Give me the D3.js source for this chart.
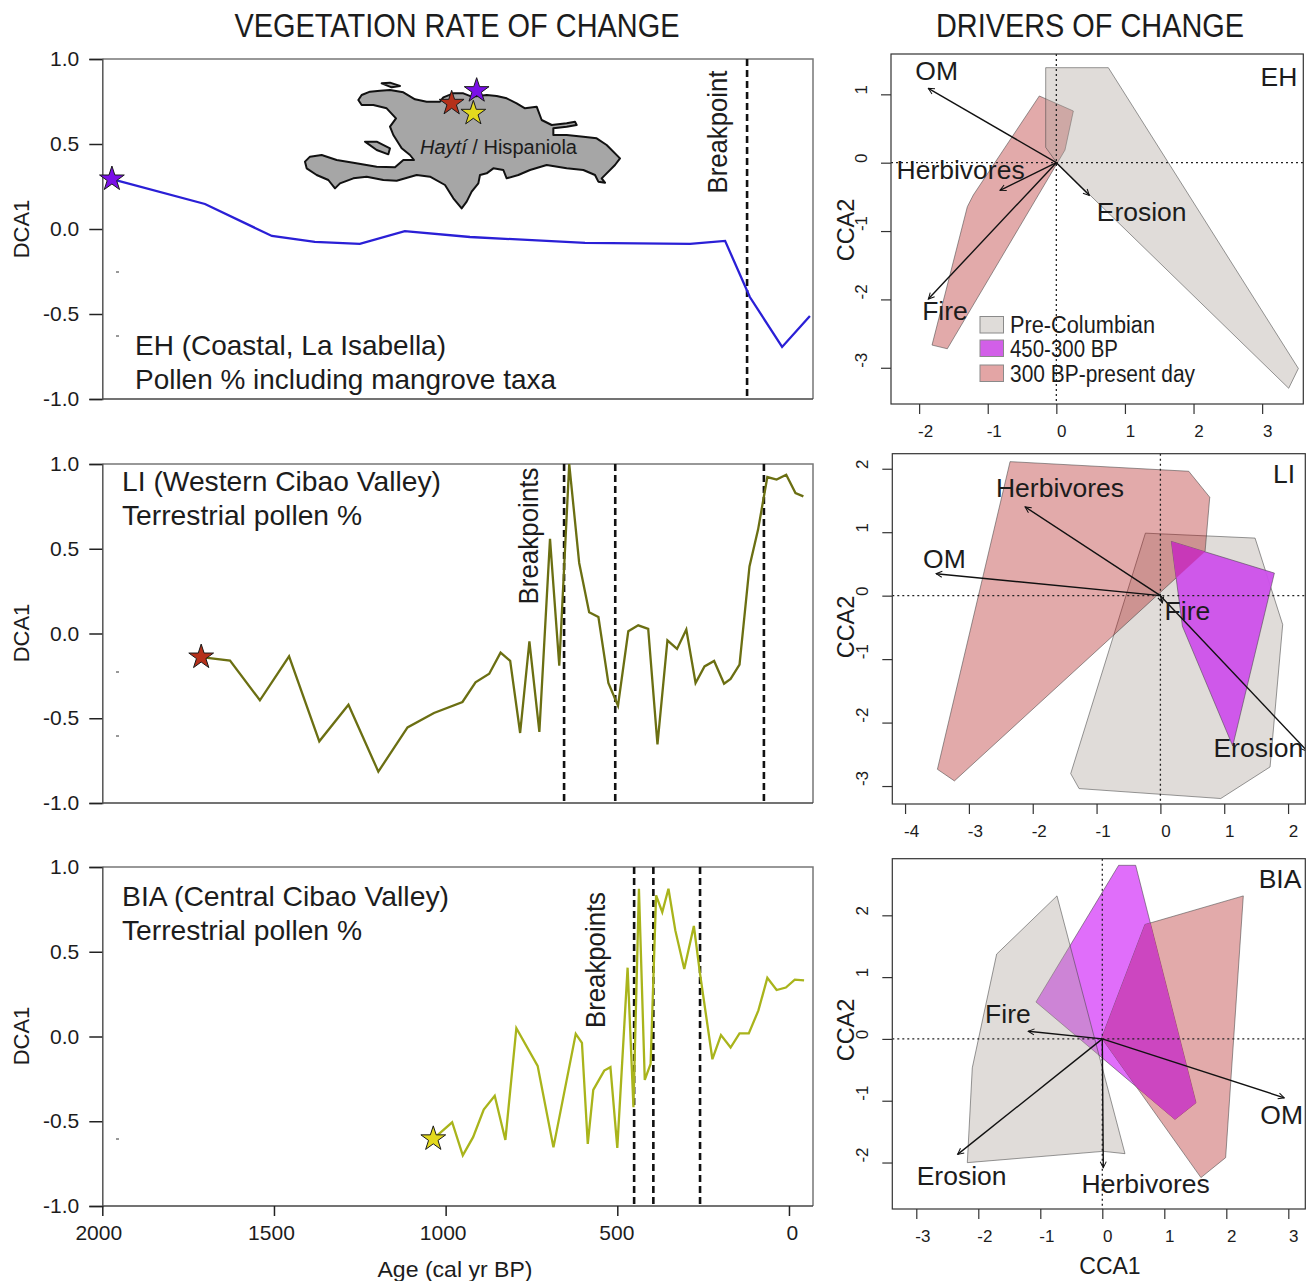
<!DOCTYPE html>
<html><head><meta charset="utf-8">
<script src="https://cdn.jsdelivr.net/npm/d3@7/dist/d3.min.js"></script>
<style>
html,body{margin:0;padding:0;background:#fff}
svg{display:block}
text{font-family:"Liberation Sans",Arial,sans-serif;fill:#1c1c1c}
</style></head><body><svg id="c" width="1311" height="1281"></svg>
<script>
// ---------- vegetation rate of change ----------
const ehAge=[1972,1701,1506,1381,1250,1119,929,594,288,186,114,20,-61];
const ehDca=[0.294,0.147,-0.041,-0.076,-0.088,-0.012,-0.047,-0.082,-0.088,-0.07,-0.4,-0.694,-0.512];
const liAge=[1712,1628,1541,1456,1368,1283,1196,1111,1034,951,913,873,840,812,783,756,727,696,669,640,611,582,555,526,498,468,439,410,383,354,326,299,272,246,218,189,170,144,115,90,63,36,8,-19,-42];
const liDca=[-0.139,-0.16,-0.394,-0.135,-0.636,-0.42,-0.815,-0.554,-0.469,-0.404,-0.288,-0.237,-0.113,-0.162,-0.587,-0.046,-0.581,0.558,-0.19,1.0,0.416,0.125,0.097,-0.292,-0.426,0.013,0.048,0.027,-0.654,-0.04,-0.091,0.023,-0.292,-0.194,-0.162,-0.296,-0.268,-0.184,0.396,0.613,0.923,0.908,0.937,0.829,0.809];
const biaAge=[1036,981,950,920,889,857,826,794,732,686,621,603,586,570,538,520,500,470,453,437,420,403,387,369,351,331,305,277,259,223,198,170,144,117,89,63,36,9,-17,-44];
const biaDca=[-0.604,-0.506,-0.701,-0.594,-0.431,-0.35,-0.61,0.049,-0.173,-0.654,0.016,-0.037,-0.634,-0.315,-0.201,-0.181,-0.657,0.406,-0.417,0.872,-0.256,-0.161,0.833,0.734,0.872,0.626,0.398,0.652,0.37,-0.134,0.008,-0.065,0.018,0.018,0.154,0.346,0.274,0.289,0.335,0.331];
const ehBreaks=[122], liBreaks=[655,506,73], biaBreaks=[451,395,259];
const dcaTicks=[-1,-0.5,0,0.5,1], ageTicks=[2000,1500,1000,500,0];

// ---------- drivers of change (CCA) ----------
const ehGray=[[-0.155,1.39],[0.758,1.39],[3.528,-3.01],[3.387,-3.30],[0.005,0],[-0.155,0.224]];
const ehRed=[[-0.248,0.976],[0.248,0.756],[0.126,0.185],[-1.589,-2.722],[-1.812,-2.668],[-1.297,-0.644],[-1.21,-0.473]];
const liGray=[[-0.235,0.985],[1.483,0.907],[1.916,-0.456],[1.718,-2.699],[0.945,-3.197],[-1.274,-3.04],[-1.405,-2.804]];
const liRed=[[-2.355,2.112],[0.444,1.96],[0.773,1.551],[0.7,0.697],[-3.227,-2.919],[-3.493,-2.736]];
const liPurple=[[0.172,0.854],[1.786,0.356],[1.133,-2.369],[0.345,-0.482]];
const biaGray=[[-0.731,2.314],[0.366,-1.857],[0.016,-1.819],[-2.177,-2.002],[-2.097,-0.468],[-1.704,1.372]];
const biaRed=[[2.274,2.314],[0.688,1.851],[-0.011,0.016],[1.591,-2.244],[1.989,-1.921]];
const biaPurple=[[0.263,2.809],[0.538,2.809],[1.511,-1.033],[1.172,-1.302],[-1.07,0.597]];
const ehArrows=[["OM",-1.866,1.088,-1.744,1.346],["Herbivores",-0.821,-0.405,-1.395,-0.107],["Fire",-1.866,-1.995,-1.623,-2.166],["Erosion",0.481,-0.478,1.244,-0.717]];
const liArrows=[["Herbivores",-2.12,1.399,-1.572,1.693],["OM",-3.514,0.346,-3.384,0.582],["Fire",0.031,-0.115,0.423,-0.246],["Erosion",2.3,-2.45,1.535,-2.406]];
const biaArrows=[["Fire",-1.194,0.124,-1.522,0.404],["OM",2.935,-0.953,2.892,-1.238],["Erosion",-2.333,-1.868,-2.269,-2.217],["Herbivores",0.016,-2.083,0.699,-2.341]];
const legendItems=["Pre-Columbian","450-300 BP","300 BP-present day"];

// ---------- Hispaniola outline (map units) ----------
const islandMain=[[205,120],[215,105],[240,95],[270,92],[300,90],[340,97],[375,118],[410,125],[450,125],[460,112],[490,100],[520,100],[545,110],[590,105],[620,108],[650,115],[680,130],[705,145],[740,140],[755,180],[785,195],[830,190],[855,185],[860,195],[830,200],[790,205],[790,225],[830,225],[880,230],[920,235],[950,255],[990,295],[975,315],[950,340],[935,355],[945,368],[925,365],[915,345],[880,330],[830,325],[770,315],[720,330],[685,345],[650,355],[640,330],[610,325],[590,340],[570,345],[565,370],[545,395],[530,425],[515,445],[490,415],[465,375],[420,350],[380,345],[320,362],[280,360],[230,350],[190,355],[150,370],[135,385],[115,360],[80,345],[50,325],[45,305],[60,290],[95,285],[140,300],[190,308],[260,320],[315,322],[340,300],[372,300],[360,285],[335,265],[310,225],[300,200],[318,175],[290,145],[250,135],[215,135]];
const islandTortuga=[[275,70],[300,68],[330,78],[305,82]];
const islandGonave=[[225,245],[260,245],[300,265],[295,283],[260,270]];
const siteStars=[[485,130,"#b5301a"],[560,92,"#7a10e8"],[550,160,"#e3d91e"]];

const svg=d3.select("#c");
const defs=svg.append("defs");
defs.append("marker").attr("id","ah").attr("markerUnits","userSpaceOnUse")
  .attr("viewBox","-9 -5 10 10").attr("refX",0).attr("refY",0).attr("markerWidth",10).attr("markerHeight",10).attr("orient","auto")
  .append("path").attr("d","M-6,-3L0,0L-6,3").attr("fill","none").attr("stroke","#111").attr("stroke-width",1);

function txt(x,y,s,size,o={}){
  const t=svg.append("text").attr("x",x).attr("y",y).attr("font-size",size).text(s)
    .attr("text-anchor",o.anchor||"start").attr("dominant-baseline",o.base||"alphabetic");
  if(o.rot!==undefined) t.attr("transform",`rotate(${o.rot},${x},${y})`);
  if(o.len) t.attr("textLength",o.len).attr("lengthAdjust","spacingAndGlyphs");
  return t;
}
const starPath=d3.symbol().type(d3.symbolStar).size(190);
function star(g,x,y,c){ g.append("path").attr("d",starPath()).attr("transform",`translate(${x},${y})`).attr("fill",c).attr("stroke","#1a1a1a").attr("stroke-width",1); }

// titles
txt(457,25.5,"VEGETATION RATE OF CHANGE",33,{anchor:"middle",base:"central",len:445});
txt(1090,25.5,"DRIVERS OF CHANGE",33,{anchor:"middle",base:"central",len:308});

// left panels
const xAge=d3.scaleLinear().domain([2000,-70]).range([102.3,813]);
function linePanel(p){
  const y=d3.scaleLinear().domain([-1,1]).range([p.bottom,p.top]);
  const g=svg.append("g");
  const L=xAge.range()[0],R=xAge.range()[1];
  g.append("path").attr("d",`M${L},${p.top}H${R}V${p.bottom}`).attr("fill","none").attr("stroke","#777").attr("stroke-width",1.5);
  g.append("line").attr("x1",L).attr("x2",R).attr("y1",p.bottom).attr("y2",p.bottom).attr("stroke","#444").attr("stroke-width",1.5);
  const ax=g.append("g").attr("transform",`translate(${L},0)`).call(d3.axisLeft(y).tickValues(dcaTicks).tickSize(13).tickPadding(10).tickFormat(d3.format(".1f")));
  ax.select(".domain").attr("stroke","#555").attr("stroke-width",1.5);
  ax.selectAll(".tick line").attr("stroke","#222").attr("stroke-width",1.5);
  ax.selectAll("text").attr("font-size",21).style("font-family",'"Liberation Sans"').attr("fill","#1c1c1c");
  ax.selectAll("text").text(d=>d3.format(".1f")(d).replace("−","-"));
  g.selectAll(".bp").data(p.breaks).enter().append("line").attr("class","bp")
    .attr("x1",d=>xAge(d)).attr("x2",d=>xAge(d)).attr("y1",p.top).attr("y2",p.bottom-2)
    .attr("stroke","#111").attr("stroke-width",2.6).attr("stroke-dasharray","7 4");
  const ln=d3.line().x(d=>xAge(d[0])).y(d=>y(d[1]));
  const pts=d3.zip(p.age,p.dca);
  g.append("path").attr("d",ln(pts)).attr("fill","none").attr("stroke",p.color).attr("stroke-width",2.3).attr("stroke-linejoin","miter");
  star(g,xAge(p.age[0]),y(p.dca[0]),p.star);
  txt(21,p.ylabY,"DCA1",22,{anchor:"middle",base:"central",rot:-90});
  return y;
}
linePanel({top:59,bottom:399,age:ehAge,dca:ehDca,breaks:ehBreaks,color:"#2a1fd6",star:"#7a10e8",ylabY:229});
linePanel({top:464,bottom:803,age:liAge,dca:liDca,breaks:liBreaks,color:"#6b6f12",star:"#b5301a",ylabY:633});
linePanel({top:867,bottom:1206,age:biaAge,dca:biaDca,breaks:biaBreaks,color:"#a9b41b",star:"#e3d91e",ylabY:1036});
// age axis
const ageLabelShift=[-4,-3,-3,-1,3];
const axB=svg.append("g").attr("transform","translate(0,1206)").call(d3.axisBottom(xAge).tickValues(ageTicks).tickSize(10).tickPadding(9).tickFormat(d3.format("d")));
axB.select(".domain").remove();
axB.selectAll(".tick line").attr("stroke","#222").attr("stroke-width",1.5);
axB.selectAll("text").attr("font-size",21).style("font-family",'"Liberation Sans"').attr("fill","#1c1c1c").attr("dx",(d,i)=>ageLabelShift[i]);
txt(455,1269,"Age (cal yr BP)",22,{anchor:"middle",base:"central",len:155});

txt(135,355,"EH (Coastal, La Isabella)",28,{len:311});
txt(135,389,"Pollen % including mangrove taxa",28,{len:421});
txt(122,491,"LI (Western Cibao Valley)",28,{len:319});
txt(122,525,"Terrestrial pollen %",28,{len:240});
txt(122,906,"BIA (Central Cibao Valley)",28,{len:327});
txt(122,940,"Terrestrial pollen %",28,{len:240});
txt(718,132,"Breakpoint",27,{anchor:"middle",base:"central",rot:-90,len:123});
txt(529,536,"Breakpoints",27,{anchor:"middle",base:"central",rot:-90,len:137});
txt(596,960,"Breakpoints",27,{anchor:"middle",base:"central",rot:-90,len:136});

// specks
[[117,272],[117,336],[117,672],[117,736],[117,1139]].forEach(d=>svg.append("line").attr("x1",d[0]-1).attr("x2",d[0]+2).attr("y1",d[1]).attr("y2",d[1]).attr("stroke","#333").attr("stroke-width",1));

// map
const mx=d3.scaleLinear().domain([0,1050]).range([290,640]), my=d3.scaleLinear().domain([0,510]).range([60,230]);
const mapLine=d3.line().x(d=>mx(d[0])).y(d=>my(d[1])).curve(d3.curveLinearClosed);
const mg=svg.append("g");
[islandMain,islandTortuga,islandGonave].forEach(s=>mg.append("path").attr("d",mapLine(s)).attr("fill","#a6a6a6").attr("stroke","#111").attr("stroke-width",2).attr("stroke-linejoin","round"));
const ht=txt(420,154,"",19.5,{len:157});
ht.append("tspan").attr("font-style","italic").text("Haytí");
ht.append("tspan").text(" / Hispaniola");
siteStars.forEach(s=>star(mg,mx(s[0]),my(s[1]),s[2]));

// right panels
const fills={gray:"rgba(177,167,159,0.395)",red:"rgba(171,6,6,0.34)",purple:"#e06efa",purpleLI:"rgba(205,80,235,0.95)"};
function ccaPanel(p,i){
  const x=d3.scaleLinear().domain(p.xd).range([p.left,p.right]);
  const y=d3.scaleLinear().domain(p.yd).range([p.bottom,p.top]);
  const g=svg.append("g");
  defs.append("clipPath").attr("id","cp"+i).append("rect").attr("x",p.left).attr("y",p.top).attr("width",p.right-p.left).attr("height",p.bottom-p.top);
  const inner=g.append("g").attr("clip-path",`url(#cp${i})`);
  const poly=d3.line().x(d=>x(d[0])).y(d=>y(d[1])).curve(d3.curveLinearClosed);
  p.polys.forEach(q=>inner.append("path").attr("d",poly(q[0])).attr("fill",fills[q[1]]).attr("stroke","rgba(70,70,70,0.55)").attr("stroke-width",1));
  if(p.overlap){
    defs.append("clipPath").attr("id","ov"+i).append("path").attr("d",poly(p.overlap[0]));
    inner.append("path").attr("d",poly(p.overlap[1])).attr("clip-path",`url(#ov${i})`).attr("fill",p.overlap[2]);
  }
  inner.append("line").attr("x1",p.left).attr("x2",p.right).attr("y1",y(0)).attr("y2",y(0)).attr("stroke","#222").attr("stroke-width",1.3).attr("stroke-dasharray","2 3");
  inner.append("line").attr("x1",x(0)).attr("x2",x(0)).attr("y1",p.top).attr("y2",p.bottom).attr("stroke","#222").attr("stroke-width",1.3).attr("stroke-dasharray","2 3");
  p.arrows.forEach(a=>inner.append("line").attr("x1",x(0)).attr("y1",y(0)).attr("x2",x(a[1])).attr("y2",y(a[2])).attr("stroke","#111").attr("stroke-width",1.4).attr("marker-end","url(#ah)"));
  g.append("rect").attr("x",p.left).attr("y",p.top).attr("width",p.right-p.left).attr("height",p.bottom-p.top).attr("fill","none").attr("stroke","#333").attr("stroke-width",1.2);
  const ab=g.append("g").attr("transform",`translate(0,${p.bottom})`).call(d3.axisBottom(x).tickValues(p.xt).tickSize(10).tickPadding(11).tickFormat(d=>String(d)));
  ab.select(".domain").remove();
  ab.selectAll(".tick line").attr("stroke","#333").attr("stroke-width",1.2);
  ab.selectAll("text").attr("font-size",17).style("font-family",'"Liberation Sans"').attr("fill","#222").attr("dx",d=>d<0?6:5);
  const al=g.append("g").attr("transform",`translate(${p.left},0)`).call(d3.axisLeft(y).tickValues(p.yt).tickSize(10).tickPadding(0).tickFormat(d=>String(d)));
  al.select(".domain").remove();
  al.selectAll(".tick line").attr("stroke","#333").attr("stroke-width",1.2);
  al.selectAll("text").attr("font-size",17).style("font-family",'"Liberation Sans"').attr("fill","#222")
    .attr("text-anchor","middle").attr("dy",0).attr("dominant-baseline","central")
    .attr("transform",d=>`translate(-30,${d<0?-8:-5}) rotate(-90)`).attr("x",0).attr("y",0);
  p.arrows.forEach(a=>{ txt(x(a[3]),y(a[4]),a[0],26.5,{anchor:"middle",base:"central"}); });
  txt(p.tagX,p.tagY,p.tag,26.5,{anchor:"middle",base:"central"});
  txt(846,p.ylabY,"CCA2",23.5,{anchor:"middle",base:"central",rot:-90});
}
ccaPanel({left:891,right:1303.3,top:54,bottom:404,xd:[-2.41,3.6],yd:[-3.53,1.59],xt:[-2,-1,0,1,2,3],yt:[-3,-2,-1,0,1],
  polys:[[ehRed,"red"],[ehGray,"gray"]],arrows:ehArrows,tag:"EH",tagX:1279,tagY:77,ylabY:230},0);
ccaPanel({left:892.3,right:1305.3,top:453.7,bottom:804,xd:[-4.2,2.27],yd:[-3.283,2.237],xt:[-4,-3,-2,-1,0,1,2],yt:[-3,-2,-1,0,1,2],
  polys:[[liGray,"gray"],[liRed,"red"],[liPurple,"purpleLI"]],overlap:[liRed,liPurple,"#c838b8"],arrows:liArrows,tag:"LI",tagX:1284,tagY:474,ylabY:627},1);
ccaPanel({left:892.3,right:1305.3,top:858.7,bottom:1209,xd:[-3.387,3.274],yd:[-2.752,2.916],xt:[-3,-2,-1,0,1,2,3],yt:[-2,-1,0,1,2],
  polys:[[biaPurple,"purple"],[biaGray,"gray"],[biaRed,"red"]],overlap:[biaRed,biaPurple,"#cc46c0"],arrows:biaArrows,tag:"BIA",tagX:1280,tagY:879,ylabY:1030},2);
txt(1110,1266,"CCA1",23,{anchor:"middle",base:"central"});

// legend
const legCols=["#dfdcd9","#d25fe8","#e3a5a5"], legW=[145,108,185], legY=[316.5,340,365];
legendItems.forEach((s,i)=>{
  svg.append("rect").attr("x",980).attr("y",legY[i]).attr("width",23.5).attr("height",16.5).attr("fill",legCols[i]).attr("stroke","#8a8a8a").attr("stroke-width",1);
  txt(1010,legY[i]+8.5,s,23,{base:"central",len:legW[i]});
});
</script></body></html>
